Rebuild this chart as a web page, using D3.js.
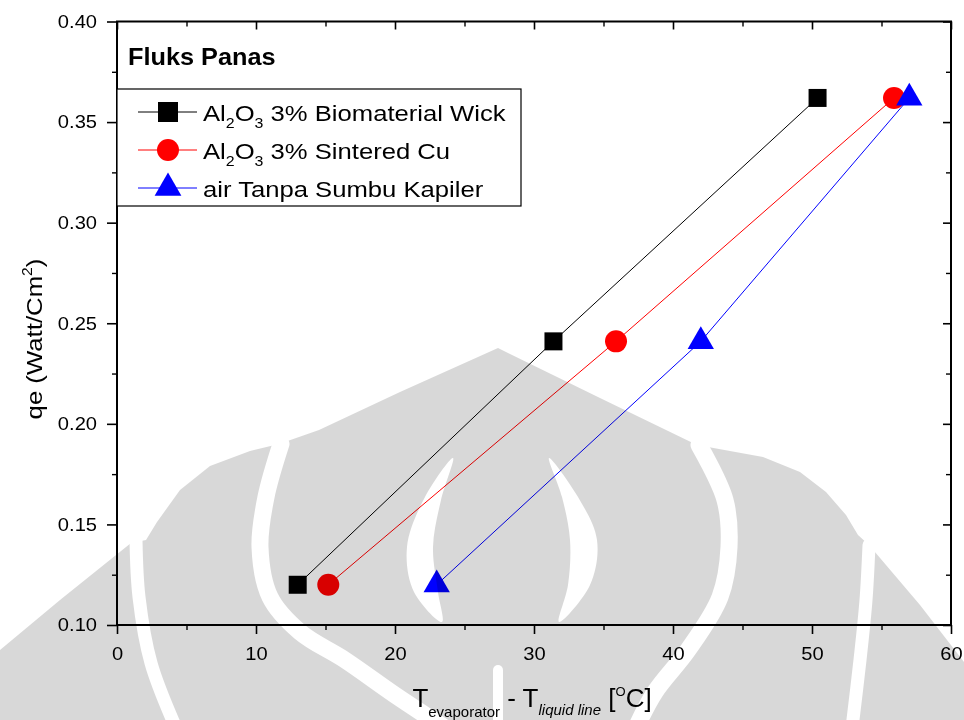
<!DOCTYPE html>
<html>
<head>
<meta charset="utf-8">
<script src="https://cdn.jsdelivr.net/npm/d3@7/dist/d3.min.js"></script>
<style>
  html, body { margin: 0; padding: 0; background: #fff; }
  svg { display: block; font-family: "Liberation Sans", Arial, Helvetica, sans-serif; }
</style>
</head>
<body>
<svg id="chart" width="964" height="720"></svg>
<script>
// Heat flux (qe, W/cm²) against evaporator − liquid-line temperature difference (°C)
const heatFlux = [0.120, 0.241, 0.362];
const dtBiomaterialWick = [13.0, 31.4, 50.4];
const dtSinteredCu = [15.2, 35.9, 55.9];
const dtNoWick = [23.0, 42.0, 57.0];

const seriesKeys = ["bio", "sinter", "plain"];
const seriesLabels = ["3% Biomaterial Wick", "3% Sintered Cu", "air Tanpa Sumbu Kapiler"];
const seriesHasFormula = [true, true, false];
const seriesColors = ["#000000", "#ff0000", "#0000ff"];
const seriesShapes = [d3.symbolSquare, d3.symbolCircle, d3.symbolTriangle];

const xTicks = [0, 10, 20, 30, 40, 50, 60];
const xMinorTicks = [5, 15, 25, 35, 45, 55];
const yTicks = [0.10, 0.15, 0.20, 0.25, 0.30, 0.35, 0.40];
const yMinorTicks = [0.125, 0.175, 0.225, 0.275, 0.325, 0.375];

const legendTitle = "Fluks Panas";

const series = [dtBiomaterialWick, dtSinteredCu, dtNoWick].map((xs, i) => ({
  key: seriesKeys[i],
  label: seriesLabels[i],
  formula: seriesHasFormula[i],
  color: seriesColors[i],
  shape: seriesShapes[i],
  points: xs.map((t, j) => ({ x: t, y: heatFlux[j] }))
}));

// ---- layout ----
const W = 964, H = 720;
const plot = { left: 117, right: 951, top: 21.5, bottom: 625 };
const x = d3.scaleLinear().domain([0, 60]).range([plot.left, plot.right]);
const y = d3.scaleLinear().domain([0.10, 0.40]).range([plot.bottom, plot.top]);

const svg = d3.select("#chart");
svg.append("rect").attr("width", W).attr("height", H).attr("fill", "#fff");

// ---- data lines and markers ----
const line = d3.line().x(d => x(d.x)).y(d => y(d.y));
const markerSize = { bio: 324, sinter: 380, plain: 300 };

const gData = svg.append("g");
series.forEach(s => {
  gData.append("path")
    .attr("d", line(s.points))
    .attr("fill", "none")
    .attr("stroke", s.color)
    .attr("stroke-width", 1);
});
series.forEach(s => {
  gData.selectAll(null).data(s.points).enter().append("path")
    .attr("transform", d => `translate(${x(d.x)},${y(d.y)})`)
    .attr("d", d3.symbol().type(s.shape).size(markerSize[s.key]))
    .attr("fill", s.color);
});

// ---- axes ----
const TS = 1.15; // horizontal stretch of tick label glyphs
function styleAxis(g, width) {
  g.select(".domain").remove();
  g.selectAll(".tick line").attr("stroke", "#000").attr("stroke-width", width);
}
const axes = svg.append("g");

const gBottom = axes.append("g").attr("transform", `translate(0,${plot.bottom})`)
  .call(d3.axisBottom(x).tickValues(xTicks).tickSize(9).tickFormat(d3.format("d")));
styleAxis(gBottom, 1.6);
gBottom.selectAll(".tick text")
  .attr("y", 35).attr("dy", null)
  .attr("transform", `scale(${TS},1)`)
  .attr("font-size", 17.5).attr("fill", "#000")
  .attr("font-family", "Liberation Sans, Arial, sans-serif");
styleAxis(axes.append("g").attr("transform", `translate(0,${plot.bottom})`)
  .call(d3.axisBottom(x).tickValues(xMinorTicks).tickSize(5).tickFormat("")), 1.4);

const gLeft = axes.append("g").attr("transform", `translate(${plot.left},0)`)
  .call(d3.axisLeft(y).tickValues(yTicks).tickSize(10).tickFormat(d3.format(".2f")));
styleAxis(gLeft, 1.6);
gLeft.selectAll(".tick text")
  .attr("x", -20 / TS).attr("dy", "0.33em")
  .attr("transform", `scale(${TS},1)`)
  .attr("font-size", 17.5).attr("fill", "#000")
  .attr("font-family", "Liberation Sans, Arial, sans-serif");
styleAxis(axes.append("g").attr("transform", `translate(${plot.left},0)`)
  .call(d3.axisLeft(y).tickValues(yMinorTicks).tickSize(5).tickFormat("")), 1.4);

// mirrored ticks on top and right point inward
styleAxis(axes.append("g").attr("transform", `translate(0,${plot.top})`)
  .call(d3.axisTop(x).tickValues(xTicks).tickSize(-8).tickFormat("")), 1.6);
styleAxis(axes.append("g").attr("transform", `translate(0,${plot.top})`)
  .call(d3.axisTop(x).tickValues(xMinorTicks).tickSize(-5).tickFormat("")), 1.4);
styleAxis(axes.append("g").attr("transform", `translate(${plot.right},0)`)
  .call(d3.axisRight(y).tickValues(yTicks).tickSize(-8).tickFormat("")), 1.6);
styleAxis(axes.append("g").attr("transform", `translate(${plot.right},0)`)
  .call(d3.axisRight(y).tickValues(yMinorTicks).tickSize(-5).tickFormat("")), 1.4);

axes.append("rect")
  .attr("x", plot.left).attr("y", plot.top)
  .attr("width", plot.right - plot.left).attr("height", plot.bottom - plot.top)
  .attr("fill", "none").attr("stroke", "#000").attr("stroke-width", 2);

// ---- axis titles ----
const yTitle = svg.append("g").attr("transform", "translate(42,339) rotate(-90) scale(1.12,1)")
  .append("text").attr("text-anchor", "middle").attr("font-size", 23).attr("fill", "#000");
yTitle.append("tspan").text("qe (Watt/Cm");
yTitle.append("tspan").attr("font-size", 14).attr("dy", -10).text("2");
yTitle.append("tspan").attr("dy", 10).text(")");

const xTitle = svg.append("g").attr("transform", "translate(532,707)")
  .append("text").attr("text-anchor", "middle").attr("font-size", 26).attr("fill", "#000");
xTitle.append("tspan").text("T");
xTitle.append("tspan").attr("font-size", 15).attr("dy", 10).text("evaporator");
xTitle.append("tspan").attr("dy", -10).text(" - T");
xTitle.append("tspan").attr("font-size", 15).attr("font-style", "italic").attr("dy", 8).text("liquid line");
xTitle.append("tspan").attr("dy", -8).text(" [");
xTitle.append("tspan").attr("font-size", 13).attr("dy", -11).text("O");
xTitle.append("tspan").attr("dy", 11).text("C]");

// ---- legend ----
svg.append("g").attr("transform", "translate(128,65) scale(1.1,1)")
  .append("text").attr("font-size", 23).attr("font-weight", "bold").attr("fill", "#000")
  .text(legendTitle);

const legend = svg.append("g");
legend.append("rect")
  .attr("x", plot.left).attr("y", 89).attr("width", 404).attr("height", 117)
  .attr("fill", "#fff").attr("stroke", "#000").attr("stroke-width", 1.2);

const legendMarkerSize = { bio: 400, sinter: 380, plain: 310 };
series.forEach((s, i) => {
  const cy = 112 + i * 38;
  legend.append("line").attr("x1", 138).attr("x2", 197).attr("y1", cy).attr("y2", cy)
    .attr("stroke", s.color).attr("stroke-width", 1);
  legend.append("path").attr("transform", `translate(168,${cy})`)
    .attr("d", d3.symbol().type(s.shape).size(legendMarkerSize[s.key]))
    .attr("fill", s.color);
  const t = legend.append("g").attr("transform", `translate(203,${cy + 9}) scale(1.14,1)`)
    .append("text").attr("font-size", 22.5).attr("fill", "#000");
  if (s.formula) {
    t.append("tspan").text("Al");
    t.append("tspan").attr("font-size", 14).attr("dy", 7).text("2");
    t.append("tspan").attr("dy", -7).text("O");
    t.append("tspan").attr("font-size", 14).attr("dy", 7).text("3");
    t.append("tspan").attr("dy", -7).text(" " + s.label);
  } else {
    t.text(s.label);
  }
});

// ---- faint emblem watermark across the lower half ----
const curve = d3.line().curve(d3.curveCatmullRom.alpha(0.5));
const closed = d3.line().curve(d3.curveCatmullRomClosed.alpha(0.5));
const emblemOutline = [[0, 650], [60, 600], [131, 543], [146, 540], [157, 522], [180, 490], [210, 466],
  [250, 451], [279, 444], [319, 430], [400, 392], [498, 348], [600, 398], [697, 445], [763, 457],
  [800, 472], [826, 492], [846, 515], [858, 535], [869, 545], [920, 605], [964, 662], [964, 720], [0, 720]];
const emblemGaps = [
  { pts: [[281, 444], [266, 497], [260, 547], [270, 597], [300, 632], [345, 660], [395, 695], [445, 728]], w: 17 },
  { pts: [[699, 445], [725, 500], [729, 547], [720, 597], [688, 650], [655, 692], [636, 728]], w: 17 },
  { pts: [[136, 540], [139, 597], [151, 663], [176, 728]], w: 13 },
  { pts: [[869, 545], [866, 600], [860, 660], [852, 728]], w: 13 },
  { pts: [[498, 670], [498, 728]], w: 10 }
];
const emblemLenses = [
  [[453, 458], [425, 497], [407, 547], [414, 592], [442, 622], [438, 592], [433, 547], [441, 500]],
  [[549, 458], [578, 497], [597, 540], [590, 585], [559, 622], [568, 585], [570, 540], [562, 497]]
];

const defs = svg.append("defs");
const mask = defs.append("mask").attr("id", "emblem-mask")
  .attr("maskUnits", "userSpaceOnUse").attr("x", 0).attr("y", 0).attr("width", W).attr("height", H);
mask.append("path").attr("d", d3.line()(emblemOutline) + "Z").attr("fill", "#fff");
emblemGaps.forEach(g => mask.append("path").attr("d", curve(g.pts))
  .attr("fill", "none").attr("stroke", "#000").attr("stroke-width", g.w).attr("stroke-linecap", "round"));
emblemLenses.forEach(p => mask.append("path").attr("d", closed(p)).attr("fill", "#000"));

svg.append("rect").attr("width", W).attr("height", H)
  .attr("fill", "#d8d8d8").attr("mask", "url(#emblem-mask)")
  .style("mix-blend-mode", "multiply");
</script>
</body>
</html>
